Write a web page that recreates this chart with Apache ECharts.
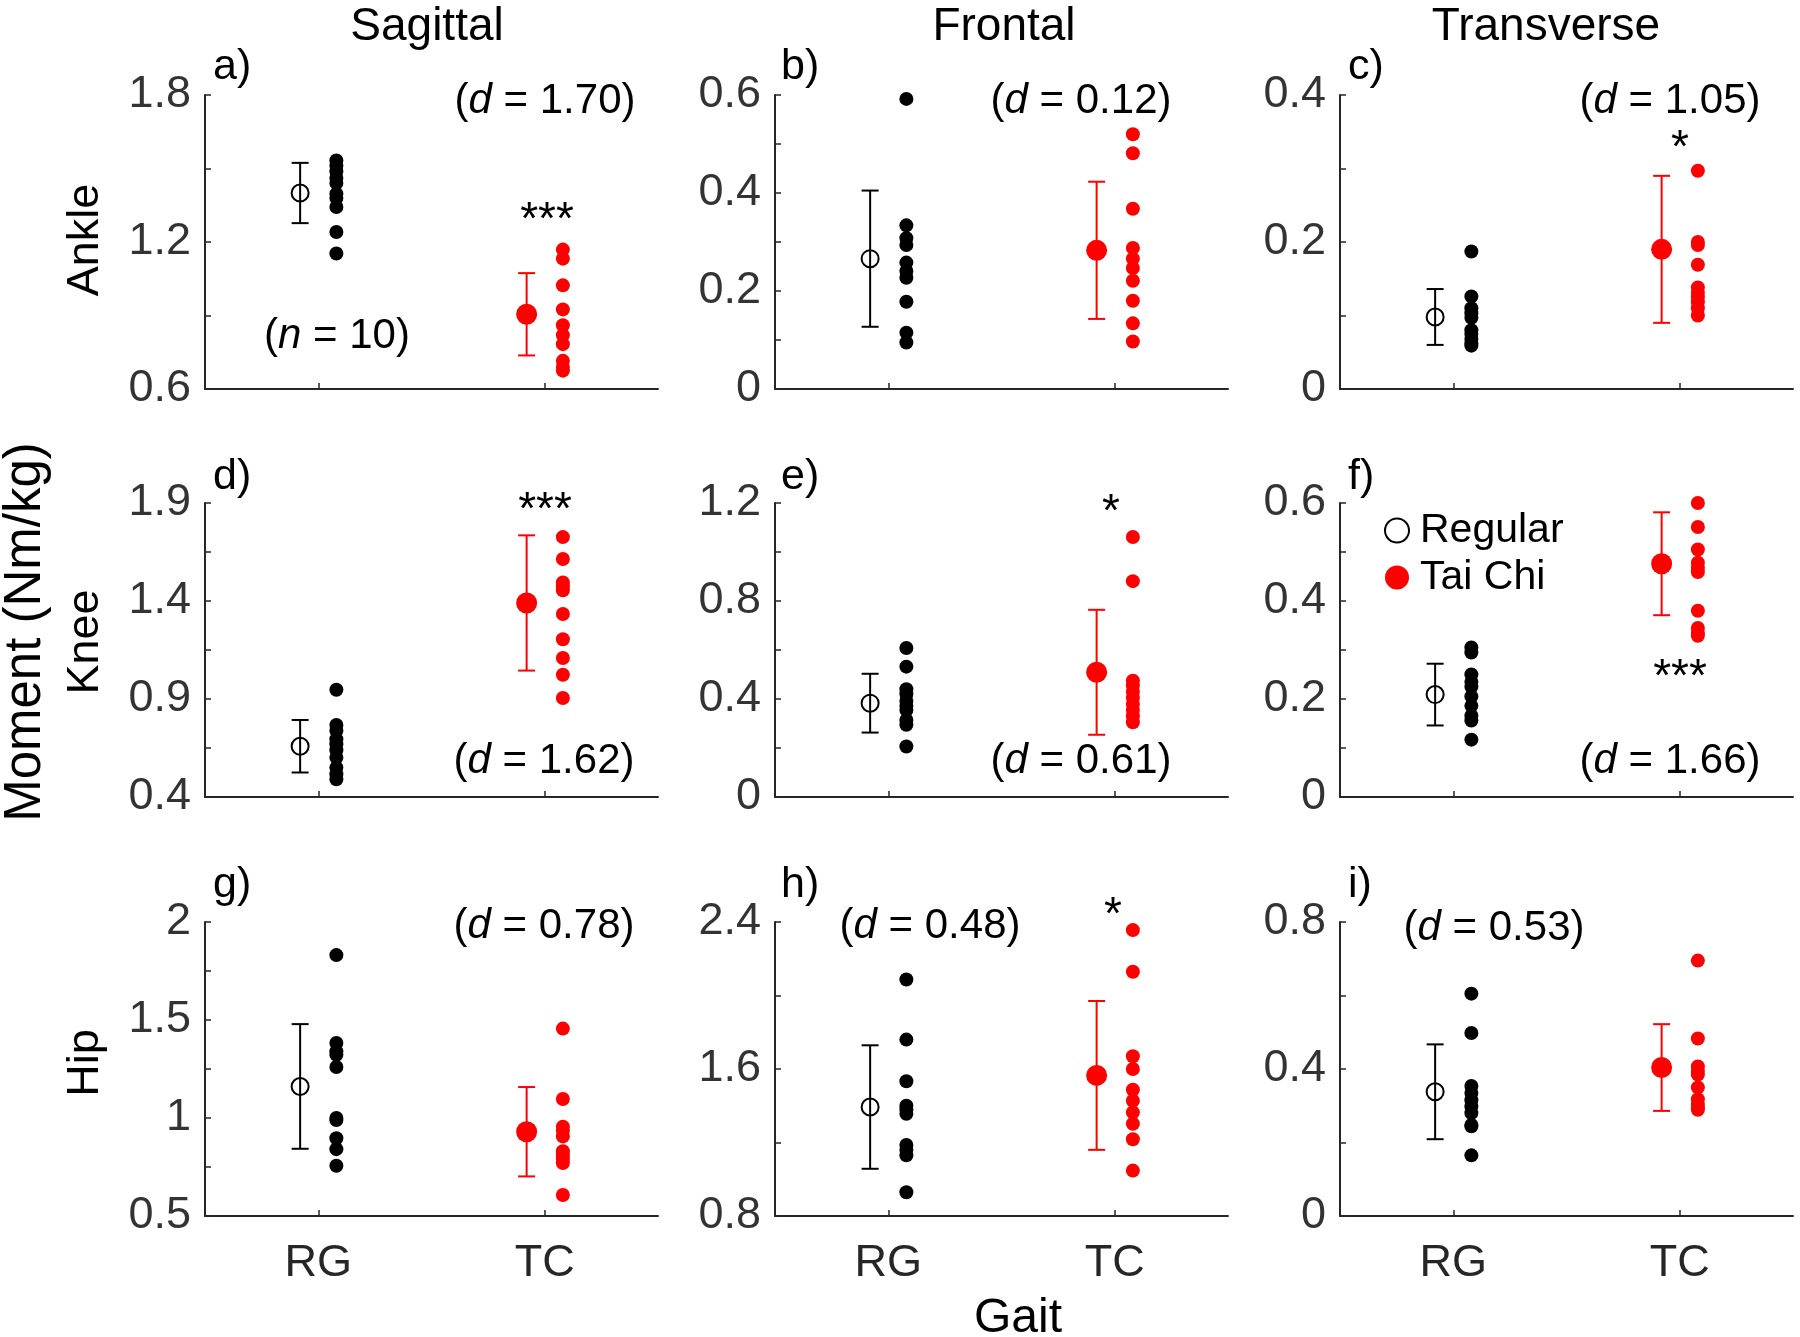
<!DOCTYPE html>
<html>
<head>
<meta charset="utf-8">
<script src="https://cdn.jsdelivr.net/npm/echarts@6/dist/echarts.min.js"></script>
<style>
  html, body { margin: 0; padding: 0; background: #fff; }
  #chart { width: 1800px; height: 1337px; }
</style>
</head>
<body>
<div id="chart"></div>
<script>
// joint moments per subject (n = 10)
const aRG = [1.533, 1.511, 1.488, 1.461, 1.441, 1.397, 1.380, 1.343, 1.241, 1.153];
const aTC = [1.169, 1.132, 1.023, 0.925, 0.860, 0.820, 0.783, 0.715, 0.690, 0.675];
const bRG = [0.592, 0.334, 0.308, 0.294, 0.258, 0.241, 0.227, 0.178, 0.115, 0.095];
const bTC = [0.520, 0.481, 0.368, 0.288, 0.266, 0.247, 0.221, 0.180, 0.134, 0.097];
const cRG = [0.187, 0.126, 0.110, 0.103, 0.097, 0.080, 0.075, 0.068, 0.062, 0.059];
const cTC = [0.297, 0.200, 0.196, 0.169, 0.138, 0.131, 0.125, 0.118, 0.110, 0.100];
const dRG = [0.947, 0.767, 0.738, 0.695, 0.669, 0.639, 0.601, 0.550, 0.516, 0.490];
const dTC = [1.726, 1.614, 1.495, 1.475, 1.455, 1.334, 1.205, 1.109, 1.024, 0.905];
const eRG = [0.608, 0.532, 0.440, 0.420, 0.392, 0.372, 0.355, 0.314, 0.295, 0.206];
const eTC = [1.061, 0.881, 0.475, 0.455, 0.430, 0.405, 0.380, 0.355, 0.330, 0.305];
const fRG = [0.305, 0.295, 0.250, 0.235, 0.225, 0.205, 0.186, 0.166, 0.156, 0.117];
const fTC = [0.600, 0.551, 0.505, 0.478, 0.468, 0.459, 0.380, 0.345, 0.335, 0.329];
const gRG = [1.831, 1.383, 1.340, 1.323, 1.260, 1.000, 0.990, 0.897, 0.841, 0.756];
const gTC = [1.456, 1.097, 0.955, 0.935, 0.906, 0.830, 0.810, 0.790, 0.770, 0.607];
const hRG = [2.087, 1.760, 1.533, 1.400, 1.380, 1.356, 1.187, 1.160, 1.130, 0.929];
const hTC = [2.356, 2.129, 1.669, 1.600, 1.487, 1.427, 1.364, 1.302, 1.218, 1.047];
const iRG = [0.605, 0.498, 0.354, 0.335, 0.315, 0.298, 0.280, 0.248, 0.244, 0.165];
const iTC = [0.695, 0.483, 0.407, 0.395, 0.385, 0.350, 0.318, 0.305, 0.295, 0.289];

// group mean and SD per panel (a..i)
const meanRG = [1.400, 0.266, 0.098, 0.659, 0.383, 0.209, 1.161, 1.393, 0.338];
const sdRG   = [0.123, 0.139, 0.038, 0.134, 0.120, 0.063, 0.318, 0.336, 0.129];
const meanTC = [0.905, 0.283, 0.190, 1.390, 0.509, 0.476, 0.930, 1.565, 0.404];
const sdTC   = [0.168, 0.140, 0.100, 0.345, 0.255, 0.105, 0.228, 0.405, 0.118];

const gaitCats = ['RG', 'TC'];
const legendNames = ['Regular', 'Tai Chi'];
const planes = ['Sagittal', 'Frontal', 'Transverse'];
const joints = ['Ankle', 'Knee', 'Hip'];
const panelLetters = ['a)', 'b)', 'c)', 'd)', 'e)', 'f)', 'g)', 'h)', 'i)'];
const effectSizes = ['1.70', '0.12', '1.05', '1.62', '0.61', '1.66', '0.78', '0.48', '0.53'];
const stars = ['***', '', '*', '***', '*', '***', '', '*', ''];

const yMin = [0.6, 0, 0, 0.4, 0, 0, 0.5, 0.8, 0];
const yMax = [1.8, 0.6, 0.4, 1.9, 1.2, 0.6, 2, 2.4, 0.8];
const yTicks = [
  [0.6, 0.9, 1.2, 1.5, 1.8],
  [0, 0.1, 0.2, 0.3, 0.4, 0.5, 0.6],
  [0, 0.1, 0.2, 0.3, 0.4],
  [0.4, 0.65, 0.9, 1.15, 1.4, 1.65, 1.9],
  [0, 0.2, 0.4, 0.6, 0.8, 1, 1.2],
  [0, 0.1, 0.2, 0.3, 0.4, 0.5, 0.6],
  [0.5, 0.75, 1, 1.25, 1.5, 1.75, 2],
  [0.8, 1.2, 1.6, 2, 2.4],
  [0, 0.2, 0.4, 0.6, 0.8]
];
const yLabels = [
  [0.6, 1.2, 1.8],
  [0, 0.2, 0.4, 0.6],
  [0, 0.2, 0.4],
  [0.4, 0.9, 1.4, 1.9],
  [0, 0.4, 0.8, 1.2],
  [0, 0.2, 0.4, 0.6],
  [0.5, 1, 1.5, 2],
  [0.8, 1.6, 2.4],
  [0, 0.4, 0.8]
];

const subjRG = [aRG, bRG, cRG, dRG, eRG, fRG, gRG, hRG, iRG];
const subjTC = [aTC, bTC, cTC, dTC, eTC, fTC, gTC, hTC, iTC];

const FONT = '"Liberation Sans", Arial, Helvetica, sans-serif';
const AX = '#262626';
const RED = '#ff0000';

const colLeft = [205, 775, 1340];
const rowTop = [95, 503, 922];
const gw = 453, gh = 294;

// annotation spots (pixels)
const dPos = [[545, 101], [1081, 101], [1670, 101], [544, 761], [1081, 761], [1670, 761], [544, 926], [930, 926], [1494, 928]];
const starPos = [[547, 221], null, [1680, 149], [545, 511], [1111, 513], [1680, 678], null, [1113, 916], null];
const letterY = [67, 477, 885];
const letterX = [213, 781, 1348];

function errorBar(params, api) {
  const x = api.value(0);
  const top = api.coord([x, api.value(2)]);
  const bot = api.coord([x, api.value(1)]);
  const w = 8.5;
  const style = { stroke: api.visual('color'), lineWidth: 2 };
  return {
    type: 'group',
    children: [
      { type: 'line', shape: { x1: top[0], y1: top[1], x2: bot[0], y2: bot[1] }, style },
      { type: 'line', shape: { x1: top[0] - w, y1: top[1], x2: top[0] + w, y2: top[1] }, style },
      { type: 'line', shape: { x1: bot[0] - w, y1: bot[1], x2: bot[0] + w, y2: bot[1] }, style }
    ]
  };
}

function richText(sym, rest, size) {
  return {
    text: '{n|(}{i|' + sym + '}{n| = ' + rest + ')}',
    align: 'center', verticalAlign: 'middle',
    rich: {
      n: { fontFamily: FONT, fontSize: size, fill: '#000' },
      i: { fontFamily: FONT, fontSize: size, fontStyle: 'italic', fill: '#000' }
    }
  };
}

const grids = [], xAxes = [], yAxes = [], series = [], graphics = [];

for (let k = 0; k < 9; k++) {
  const r = Math.floor(k / 3), c = k % 3;
  grids.push({ left: colLeft[c], top: rowTop[r], width: gw, height: gh });
  xAxes.push({
    gridIndex: k, type: 'value', min: 0.5, max: 2.5,
    splitLine: { show: false },
    axisLine: { show: true, onZero: false, lineStyle: { color: AX, width: 2 } },
    axisTick: { show: true, inside: true, length: 6, customValues: [1, 2], lineStyle: { color: AX, width: 1.5 } },
    axisLabel: {
      show: r === 2, customValues: [1, 2], margin: 25,
      fontFamily: FONT, fontSize: 45, color: AX,
      formatter: v => gaitCats[Math.round(v) - 1]
    }
  });
  yAxes.push({
    gridIndex: k, type: 'value', min: yMin[k], max: yMax[k],
    splitLine: { show: false },
    axisLine: { show: true, onZero: false, lineStyle: { color: AX, width: 2 } },
    axisTick: { show: true, inside: true, length: 6, customValues: yTicks[k], lineStyle: { color: AX, width: 1.5 } },
    axisLabel: { customValues: yLabels[k], margin: 14, fontFamily: FONT, fontSize: 45, color: '#333' }
  });

  const common = { xAxisIndex: k, yAxisIndex: k, silent: true };
  series.push({
    ...common, type: 'custom', renderItem: errorBar, itemStyle: { color: '#000' },
    encode: { x: 0, y: [1, 2] },
    data: [[0.92, meanRG[k] - sdRG[k], meanRG[k] + sdRG[k]]]
  });
  series.push({
    ...common, type: 'custom', renderItem: errorBar, itemStyle: { color: RED },
    encode: { x: 0, y: [1, 2] },
    data: [[1.92, meanTC[k] - sdTC[k], meanTC[k] + sdTC[k]]]
  });
  series.push({
    ...common, name: legendNames[0], type: 'scatter', symbol: 'circle', symbolSize: 17,
    itemStyle: { color: 'rgba(0,0,0,0)', borderColor: '#000', borderWidth: 2, opacity: 1 },
    data: [[0.92, meanRG[k]]]
  });
  series.push({
    ...common, name: legendNames[1], type: 'scatter', symbol: 'circle', symbolSize: 21,
    itemStyle: { color: RED, opacity: 1 },
    data: [[1.92, meanTC[k]]]
  });
  series.push({
    ...common, type: 'scatter', symbol: 'circle', symbolSize: 14, itemStyle: { color: '#000', opacity: 1 },
    data: subjRG[k].map(v => [1.08, v])
  });
  series.push({
    ...common, type: 'scatter', symbol: 'circle', symbolSize: 14, itemStyle: { color: RED, opacity: 1 },
    data: subjTC[k].map(v => [2.08, v])
  });

  // panel letter
  graphics.push({
    type: 'text', x: letterX[c], y: letterY[r],
    style: { text: panelLetters[k], font: '43px ' + FONT, fill: '#000', align: 'left', verticalAlign: 'middle' }
  });
  // effect size
  graphics.push({ type: 'text', x: dPos[k][0], y: dPos[k][1], style: richText('d', effectSizes[k], 42) });
  if (stars[k]) {
    graphics.push({
      type: 'text', x: starPos[k][0], y: starPos[k][1],
      style: { text: stars[k], font: '46px ' + FONT, fill: '#000', align: 'center', verticalAlign: 'middle' }
    });
  }
}

// sample size note in panel a
graphics.push({ type: 'text', x: 337, y: 336, style: richText('n', '10', 42) });

// column titles
const titleX = [427, 1004, 1546];
planes.forEach((p, c) => graphics.push({
  type: 'text', x: titleX[c], y: 27,
  style: { text: p, font: '46px ' + FONT, fill: '#000', align: 'center', verticalAlign: 'middle' }
}));
// row labels
const rowY = [240, 642, 1063];
joints.forEach((j, r) => graphics.push({
  type: 'text', x: 86, y: rowY[r], rotation: Math.PI / 2,
  style: { text: j, font: '45px ' + FONT, fill: '#000', align: 'center', verticalAlign: 'middle' }
}));
graphics.push({
  type: 'text', x: 26, y: 632, rotation: Math.PI / 2,
  style: { text: 'Moment (Nm/kg)', font: '51px ' + FONT, fill: '#000', align: 'center', verticalAlign: 'middle' }
});
graphics.push({
  type: 'text', x: 1018, y: 1319,
  style: { text: 'Gait', font: '48px ' + FONT, fill: '#000', align: 'center', verticalAlign: 'middle' }
});

const chart = echarts.init(document.getElementById('chart'), null, { renderer: 'canvas' });
chart.setOption({
  animation: false,
  backgroundColor: '#fff',
  grid: grids,
  xAxis: xAxes,
  yAxis: yAxes,
  legend: {
    data: legendNames, orient: 'vertical', left: 1379, top: 505,
    itemWidth: 36, itemHeight: 24, itemGap: 6, icon: 'circle',
    textStyle: { fontFamily: FONT, fontSize: 41, color: '#000' },
    selectedMode: false
  },
  graphic: graphics,
  series
});
</script>
</body>
</html>
